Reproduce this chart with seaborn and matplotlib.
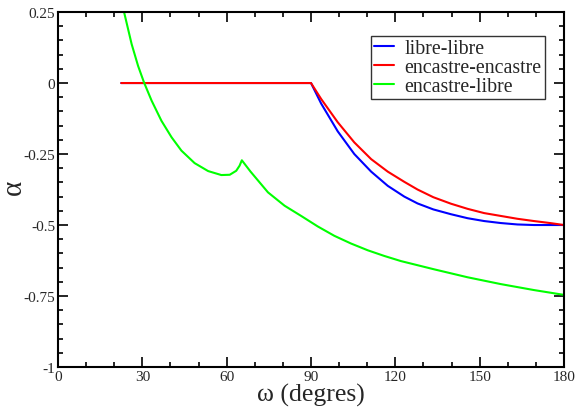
"""
Coefficient alpha en fonction de omega pour trois conditions aux limites
"""

import matplotlib
matplotlib.use("Agg")
import matplotlib.pyplot as plt
import seaborn as sns
import pandas as pd
from matplotlib.ticker import MultipleLocator

# libre-libre (bleu)
libre_x = [22.5, 90, 93.6, 99.5, 105.4, 111.4, 117.3, 123.2, 127.9, 133.5,
           139.8, 145.7, 151.6, 157.5, 163.4, 169.3, 180]
libre_y = [0, 0, -0.072, -0.170, -0.250, -0.312, -0.362, -0.400, -0.424, -0.445,
           -0.462, -0.476, -0.486, -0.493, -0.498, -0.5, -0.5]

# encastre-encastre (rouge)
encastre_x = [22.5, 90, 93.6, 99.5, 105.4, 111.4, 117.3, 123.2, 127.9, 133.5,
              139.8, 145.7, 151.6, 157.5, 163.4, 169.3, 175, 180]
encastre_y = [0, 0, -0.056, -0.138, -0.209, -0.268, -0.312, -0.348, -0.375, -0.402,
              -0.425, -0.443, -0.458, -0.468, -0.478, -0.486, -0.493, -0.5]

# encastre-libre (vert)
mixte_x = [23.5, 26.2, 28.5, 30.6, 33.3, 36.8, 40.4, 43.9, 48.6, 53.4, 58.1,
           61.1, 63.4, 64.6, 65.4, 68.5, 74.7, 80.6, 86.5, 92.4, 98.3, 104.2,
           110.2, 116.1, 122.0, 133.8, 145.7, 157.5, 169.3, 180]
mixte_y = [0.25, 0.137, 0.06, 0.002, -0.062, -0.133, -0.191, -0.238, -0.282, -0.310, -0.324,
           -0.323, -0.309, -0.291, -0.272, -0.312, -0.385, -0.432, -0.468, -0.505, -0.538, -0.565,
           -0.589, -0.609, -0.627, -0.656, -0.684, -0.708, -0.729, -0.746]

series = [
    ("libre-libre", libre_x, libre_y, "#0000FF"),
    ("encastre-encastre", encastre_x, encastre_y, "#FF0000"),
    ("encastre-libre", mixte_x, mixte_y, "#00FF00"),
]

sns.set_style("ticks")
plt.rcParams["font.family"] = ["Liberation Serif", "DejaVu Serif"]

fig = plt.figure(figsize=(5.77, 4.10), dpi=100)
ax = fig.add_axes([0.1005, 0.1024, 0.877, 0.8658])

for name, xs, ys, col in series:
    df = pd.DataFrame({"omega": xs, "alpha": ys})
    sns.lineplot(data=df, x="omega", y="alpha", ax=ax, color=col, linewidth=1.5,
                 sort=False, estimator=None, label=name)

ax.set_xlim(0, 180)
ax.set_ylim(-1, 0.25)
ax.xaxis.set_major_locator(MultipleLocator(30))
ax.xaxis.set_minor_locator(MultipleLocator(10))
ax.yaxis.set_minor_locator(MultipleLocator(0.05))
ax.set_yticks([0.25, 0, -0.25, -0.5, -0.75, -1])
ax.set_yticklabels(["0.25", "0", "-0.25", "-0.5", "-0.75", "-1"])
ax.tick_params(which="both", direction="in", top=True, right=True,
               labelsize=11, color="black", width=1.2)
ax.tick_params(which="major", length=7, pad=2)
ax.tick_params(which="minor", length=3.5)
for sp in ax.spines.values():
    sp.set_linewidth(1.5)
    sp.set_color("black")

ax.set_xlabel("ω (degres)", fontsize=18.5, labelpad=0)
ax.set_ylabel("α", fontsize=21)
ax.yaxis.set_label_coords(-0.062, 0.51)

leg = ax.legend(loc="upper right", bbox_to_anchor=(0.962, 0.932), borderaxespad=0,
                fontsize=14.3, frameon=True, fancybox=False, edgecolor="black",
                handlelength=1.0, handletextpad=0.55, labelspacing=0.0,
                borderpad=0.15)
leg.get_frame().set_linewidth(1.0)

plt.savefig("out.png", dpi=100)
